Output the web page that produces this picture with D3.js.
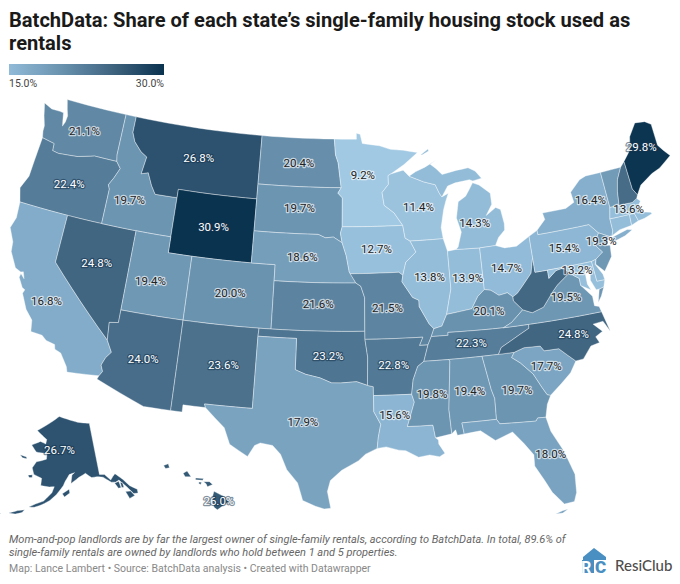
<!DOCTYPE html>
<html>
<head>
<meta charset="utf-8">
<script src="https://cdn.jsdelivr.net/npm/d3@7"></script>
<style>
  html, body { margin: 0; padding: 0; background: #fff; }
  svg { display: block; font-family: Roboto, sans-serif; }
</style>
</head>
<body>
<svg id="chart" width="680" height="584"></svg>
<script>
// share of single-family stock used as rentals (unlabelled states are estimated from their colour)
var stateCodes = ["WA","OR","CA","NV","ID","MT","WY","UT","AZ","CO","NM","ND","SD","NE","KS","OK","TX","MN","IA","MO","AR","LA","WI","IL","IN","MI","OH","KY","TN","MS","AL","GA","FL","SC","NC","VA","WV","PA","NY","NJ","MD","DE","CT","RI","MA","VT","NH","ME","AK","HI"];
var stateValues = [21.1,22.4,16.8,24.8,19.7,26.8,30.9,19.4,24.0,20.0,23.6,20.4,19.7,18.6,21.6,23.2,17.9,9.2,12.7,21.5,22.8,15.6,11.4,13.8,13.9,14.3,14.7,20.1,22.3,19.8,19.4,19.7,18.0,17.7,24.8,19.5,24.6,15.4,16.4,19.3,13.2,14.5,14.0,14.0,13.6,19.0,24.2,29.8,26.7,26.0];
var unlabelled = ["WV","DE","CT","RI","VT","NH"];

var legendTicks = ["15.0%", "30.0%"];
var colorStops = [9, 15, 20, 25, 30];
var colorRange = ["#a2c9e3", "#90bad7", "#6a93b0", "#3f6480", "#0a3350"];

// outlines as lon,lat
var stateRings = {
  WA: ["-124.7,48.38 -123.9,48.15 -123.1,48.15 -122.75,48.12 -122.6,47.6 -122.5,47.3 -122.35,47.6 -122.3,48.0 -122.5,48.4 -122.75,49 -117.03,49 -117.03,46.4 -116.92,45.99 -118.98,46 -119.3,45.93 -120.5,45.7 -121.2,45.65 -122.2,45.58 -122.75,45.65 -122.8,46.1 -123.2,46.15 -123.95,46.25 -124.08,46.65 -124.1,47 -124.4,47.6"],
  OR: ["-124.2,42 -124.55,42.85 -124.1,43.7 -124.05,44.7 -123.95,46.25 -123.2,46.15 -122.8,46.1 -122.75,45.65 -122.2,45.58 -121.2,45.65 -120.5,45.7 -119.3,45.93 -118.98,46 -116.92,45.99 -116.48,45.6 -116.85,44.95 -117.2,44.45 -117.03,44.2 -117.03,42"],
  CA: ["-124.2,42 -120,42 -120,39 -114.63,35 -114.14,34.3 -114.5,33.9 -114.72,33.4 -114.52,33.03 -114.72,32.72 -117.12,32.53 -117.25,32.85 -117.9,33.6 -118.4,33.75 -118.5,34.03 -119.2,34.15 -119.6,34.4 -120.5,34.45 -120.65,35.15 -121.3,35.7 -121.9,36.6 -121.8,36.85 -122.05,36.95 -122.5,37.5 -122.45,37.75 -122.1,37.5 -122.3,37.9 -122.5,37.85 -123,38 -123.7,38.9 -123.8,39.5 -124.35,40.3 -124.1,41"],
  NV: ["-120,42 -114.04,42 -114.04,36.2 -114.75,36.1 -114.63,35 -120,39"],
  ID: ["-117.03,49 -116.05,49 -116.05,48 -115.7,47.45 -114.95,46.9 -114.35,46.65 -114.55,45.55 -113.95,45.7 -113.45,44.95 -113,44.45 -111.05,44.47 -111.05,42 -117.03,42 -117.03,44.2 -117.2,44.45 -116.85,44.95 -116.48,45.6 -116.92,45.99 -117.03,46.4"],
  MT: ["-116.05,49 -104.05,49 -104.05,45 -111.05,45 -111.05,44.47 -113,44.45 -113.45,44.95 -113.95,45.7 -114.55,45.55 -114.35,46.65 -114.95,46.9 -115.7,47.45 -116.05,48"],
  WY: ["-111.05,45 -104.05,45 -104.05,41 -111.05,41"],
  UT: ["-114.04,42 -111.05,42 -111.05,41 -109.05,41 -109.05,37 -114.04,37"],
  CO: ["-109.05,41 -102.05,41 -102.05,37 -109.05,37"],
  AZ: ["-114.04,37 -109.05,37 -109.05,31.33 -111.07,31.33 -114.82,32.5 -114.72,32.72 -114.52,33.03 -114.72,33.4 -114.5,33.9 -114.14,34.3 -114.63,35 -114.75,36.1 -114.04,36.2"],
  NM: ["-109.05,37 -103,37 -103.04,36.5 -103.06,32 -106.62,32 -106.53,31.78 -108.2,31.78 -108.2,31.33 -109.05,31.33"],
  TX: ["-103.04,36.5 -100,36.5 -100,34.56 -99.2,34.3 -98.1,34.1 -97.2,33.8 -96.5,33.8 -95.3,33.88 -94.48,33.64 -94.04,33.55 -94.04,33 -94.04,32 -93.55,31.2 -93.75,30.4 -93.85,29.7 -94.7,29.35 -95.2,28.95 -96.4,28.35 -97.2,27.7 -97.4,27 -97.15,25.95 -97.6,25.9 -98.2,26.06 -99.1,26.4 -99.5,27.5 -100.3,28.3 -100.8,29.25 -101.4,29.77 -102.3,29.88 -102.7,29.7 -103.15,28.98 -104.5,29.65 -105,30.65 -106.53,31.78 -106.62,32 -103.06,32"],
  OK: ["-103,37 -94.62,37 -94.62,36.5 -94.43,35.4 -94.48,33.64 -95.3,33.88 -96.5,33.8 -97.2,33.8 -98.1,34.1 -99.2,34.3 -100,34.56 -100,36.5 -103.04,36.5"],
  KS: ["-102.05,40 -95.3,40 -94.9,39.8 -94.6,39.1 -94.62,37 -102.05,37"],
  NE: ["-104.05,43 -98.5,43 -97.9,42.8 -97.2,42.85 -96.45,42.5 -96.1,41.7 -95.85,40.7 -95.3,40 -102.05,40 -102.05,41 -104.05,41"],
  SD: ["-104.05,45.94 -96.56,45.94 -96.85,45.6 -96.45,45.3 -96.45,43.5 -96.6,43.1 -96.45,42.5 -97.2,42.85 -97.9,42.8 -98.5,43 -104.05,43"],
  ND: ["-104.05,49 -97.23,49 -97.1,48 -96.85,47.5 -96.56,45.94 -104.05,45.94"],
  MN: ["-97.23,49 -95.15,49 -95.15,49.38 -94.8,49.3 -94.6,48.72 -93,48.55 -92,48.3 -90.8,48.2 -89.5,48 -90.8,47.3 -92.05,46.75 -92.3,46.65 -92.3,46.1 -92.9,45.6 -92.75,44.8 -91.9,44.3 -91.2,43.5 -96.45,43.5 -96.45,45.3 -96.85,45.6 -96.56,45.94 -96.85,47.5 -97.1,48"],
  IA: ["-96.45,43.5 -91.2,43.5 -91.05,42.7 -90.64,42.5 -90.2,41.8 -91.1,41.2 -91.4,40.4 -91.73,40.6 -95.77,40.58 -95.85,40.7 -96.1,41.7 -96.45,42.5 -96.6,43.1"],
  MO: ["-95.77,40.58 -91.73,40.6 -91.4,40.4 -91.5,40 -90.7,39 -90.2,38.8 -90.2,38.4 -89.5,37.3 -89.15,36.98 -89.4,36.5 -89.7,36 -90.37,36 -90.07,36.5 -94.62,36.5 -94.62,37 -94.6,39.1 -94.9,39.8 -95.3,40"],
  AR: ["-94.62,36.5 -90.07,36.5 -90.37,36 -89.7,36 -90.1,35 -90.6,34.7 -91,33.9 -91.17,33 -94.04,33 -94.04,33.55 -94.48,33.64 -94.43,35.4"],
  LA: ["-94.04,33 -91.17,33 -91,32.5 -91.6,31 -89.73,31 -89.6,30.2 -89.4,30.05 -89.4,29.8 -89,29.2 -89.4,29 -90.1,29.15 -90.9,29.05 -91.8,29.5 -92.3,29.55 -93.2,29.78 -93.85,29.7 -93.75,30.4 -93.55,31.2 -94.04,32"],
  MS: ["-91.17,33 -91,33.9 -90.6,34.7 -90.1,35 -88.2,35 -88.1,34.9 -88.47,31.9 -88.4,30.37 -89.6,30.2 -89.73,31 -91.6,31 -91,32.5"],
  AL: ["-88.2,35 -85.6,35 -85.18,32.87 -85,32.3 -85.05,31 -87.6,31 -87.5,30.3 -88,30.25 -88.1,30.6 -88.4,30.37 -88.47,31.9 -88.1,34.9"],
  GA: ["-85.6,35 -83.1,35 -83.35,34.7 -82.75,34.3 -81.9,33.5 -81.4,32.6 -81.1,32.1 -80.85,32.03 -81.2,31.5 -81.45,30.72 -82.05,30.75 -82.2,30.57 -84.85,30.7 -85.05,31 -85,32.3 -85.18,32.87"],
  FL: ["-87.6,31 -85.05,31 -84.85,30.7 -82.2,30.57 -82.05,30.75 -81.45,30.72 -81.25,29.8 -80.55,28.45 -80.05,26.9 -80.15,25.75 -80.4,25.2 -81.1,25.15 -81.8,26 -82.2,26.8 -82.75,27.8 -82.7,28.5 -83.3,29.3 -84,30.1 -85.3,29.7 -86.3,30.4 -87.5,30.3",
       "-81.8,24.6 -81.3,24.75 -80.9,24.8 -81.3,24.6"],
  SC: ["-83.35,34.7 -83.1,35 -82.3,35.2 -81.05,35.15 -80.8,34.82 -79.67,34.8 -78.55,33.86 -79.1,33.2 -79.9,32.65 -80.85,32.03 -81.1,32.1 -81.4,32.6 -81.9,33.5 -82.75,34.3"],
  NC: ["-84.32,35 -83.1,35 -82.3,35.2 -81.05,35.15 -80.8,34.82 -79.67,34.8 -78.55,33.86 -77.95,33.9 -77.2,34.6 -76.5,34.7 -76.7,35.1 -76.1,35.35 -76.7,35.9 -75.9,35.95 -75.5,35.25 -75.85,36.55 -81.68,36.59 -81.7,36.35 -82.6,36 -83.2,35.75 -84.05,35.4"],
  TN: ["-90.1,35 -84.32,35 -84.05,35.4 -83.2,35.75 -82.6,36 -81.7,36.35 -81.68,36.59 -83.68,36.6 -88.07,36.68 -88.07,36.5 -89.4,36.5 -89.7,36"],
  KY: ["-89.4,36.5 -88.07,36.5 -88.07,36.68 -83.68,36.6 -83,36.85 -81.97,37.54 -82.6,38.17 -82.6,38.42 -83,38.72 -83.7,38.63 -84.3,39 -84.82,39.1 -85.4,38.73 -86,38 -87,37.9 -88.05,37.8 -88.5,37.1 -89.15,36.98"],
  IL: ["-87.53,41.7 -87.8,42.5 -90.64,42.5 -90.2,41.8 -91.1,41.2 -91.4,40.4 -91.5,40 -90.7,39 -90.2,38.8 -90.2,38.4 -89.5,37.3 -89.15,36.98 -88.5,37.1 -88.05,37.8 -87.53,39.35"],
  WI: ["-92.3,46.65 -92.05,46.75 -90.9,46.95 -90.4,46.55 -89.1,46.13 -88.1,45.9 -87.8,45.35 -87.6,45.1 -87,45.3 -87.3,44.8 -87.55,44.3 -87.9,43.2 -87.8,42.5 -90.64,42.5 -91.05,42.7 -91.2,43.5 -91.9,44.3 -92.75,44.8 -92.9,45.6 -92.3,46.1"],
  MI: ["-86.8,41.76 -84.8,41.7 -83.45,41.72 -83.1,42.2 -82.5,42.6 -82.45,43 -82.6,43.9 -83,44.07 -83.9,43.65 -83.3,44.3 -83.3,45 -84.2,45.6 -84.75,45.78 -85.1,45.4 -85.5,45 -86.2,44.7 -86.5,43.7 -86.2,42.8 -86.6,41.9",
       "-90.4,46.55 -89.1,46.13 -88.1,45.9 -87.8,45.35 -87.6,45.1 -87,45.75 -86.3,45.9 -85,46 -84.7,45.9 -83.9,46 -84.4,46.5 -85,46.75 -86.1,46.67 -87.4,46.5 -87.9,46.9 -88.4,47.2 -87.8,47.45 -88.9,47.05 -89.8,46.8",
       "-89.2,47.85 -88.5,48.17 -88.45,48.05 -89.1,47.82"],
  IN: ["-87.53,41.7 -86.8,41.76 -84.8,41.7 -84.82,39.1 -85.4,38.73 -86,38 -87,37.9 -88.05,37.8 -87.53,39.35"],
  OH: ["-84.8,41.7 -83.45,41.72 -82.7,41.5 -81.7,41.5 -80.52,41.98 -80.52,40.64 -80.85,39.7 -81.7,39 -82.2,38.6 -82.6,38.42 -83,38.72 -83.7,38.63 -84.3,39 -84.82,39.1"],
  WV: ["-80.52,40.64 -80.52,39.72 -79.48,39.72 -79.48,39.2 -78.8,39.6 -78.2,39.68 -77.72,39.32 -78.35,39 -78.9,38.7 -79.3,38.4 -80.3,37.5 -81.25,37.27 -81.97,37.54 -82.6,38.17 -82.6,38.42 -82.2,38.6 -81.7,39 -80.85,39.7"],
  VA: ["-83.68,36.6 -81.68,36.59 -75.85,36.55 -75.95,36.9 -76.3,37 -76.3,37.6 -76.9,38.25 -77.05,38.4 -77.05,38.85 -77.5,39.12 -77.72,39.32 -78.35,39 -78.9,38.7 -79.3,38.4 -80.3,37.5 -81.25,37.27 -81.97,37.54 -83,36.85",
       "-75.95,37.15 -75.65,37.95 -75.25,38.03 -75.6,37.5"],
  MD: ["-79.48,39.72 -75.79,39.72 -75.7,38.46 -75.05,38.45 -75.25,38.03 -75.65,37.95 -75.9,37.95 -76.2,38.6 -76,39.4 -76.5,39.2 -76.5,38.4 -76.3,38 -77.05,38.4 -77.05,38.85 -77.5,39.12 -77.72,39.32 -78.2,39.68 -78.8,39.6 -79.48,39.2"],
  DE: ["-75.79,39.72 -75.4,39.8 -75.55,39.5 -75.1,38.8 -75.05,38.45 -75.7,38.46"],
  PA: ["-80.52,41.98 -79.76,42.27 -79.76,42 -75.35,42 -74.7,41.36 -75.1,40.95 -75.2,40.65 -74.72,40.15 -75.4,39.8 -75.79,39.72 -80.52,39.72"],
  NJ: ["-74.7,41.36 -73.9,41 -74.25,40.5 -74,40.45 -74.1,39.75 -74.9,38.95 -75.5,39.5 -75.4,39.8 -74.72,40.15 -75.2,40.65 -75.1,40.95"],
  NY: ["-79.76,42.27 -79.76,42 -75.35,42 -74.7,41.36 -73.9,41 -73.65,41 -73.5,41.3 -73.5,42.05 -73.27,42.75 -73.35,45 -74.7,45 -75.3,44.85 -76.3,44.2 -76.2,43.55 -77,43.28 -79.05,43.27 -78.95,42.85",
       "-74,40.6 -73.7,40.9 -72.3,41.15 -71.9,41.05 -72.6,40.8 -73.9,40.57"],
  CT: ["-73.65,41 -73.5,41.3 -73.5,42.05 -71.8,42.02 -71.85,41.33 -72.9,41.25"],
  RI: ["-71.8,42.02 -71.38,42.02 -71.2,41.5 -71.85,41.33"],
  MA: ["-73.5,42.05 -73.27,42.75 -72.46,42.73 -71.3,42.7 -70.85,42.87 -70.6,42.65 -71,42.3 -70.6,41.95 -70,41.8 -70.1,42.05 -69.95,41.7 -70.65,41.55 -71.2,41.5 -71.38,42.02 -71.8,42.02"],
  VT: ["-73.27,42.75 -72.46,42.73 -72.3,43.6 -72.05,44.3 -71.5,45.01 -73.35,45"],
  NH: ["-72.46,42.73 -71.3,42.7 -70.85,42.87 -70.7,43.07 -71,43.5 -71.08,45.3 -71.5,45.01 -72.05,44.3 -72.3,43.6"],
  ME: ["-71.08,45.3 -71,43.5 -70.7,43.07 -70.2,43.6 -69,44.1 -68.2,44.3 -67,44.85 -67.45,45.3 -67.8,45.7 -67.8,47.07 -68.3,47.35 -69.2,47.45 -70,46.7 -70.3,45.9"],
  AK: ["-141,69.65 -141,60.3 -139.2,60.1 -137.5,58.9 -136.5,59.4 -135.5,59.8 -134,58.8 -133.4,58.4 -132,57 -130,55.9 -130.2,55.2 -131.5,55.4 -133,57 -134.8,58.5 -136,58.3 -137.5,58.5 -139.9,59.7 -142,60 -144,60 -146,60.9 -148.5,60.3 -151.5,59.3 -151,60.8 -150,61.2 -152,60.9 -153.5,59.7 -154.2,58.9 -156.5,57.3 -158.5,56.2 -161,55.3 -163.2,54.7 -164.9,54.6 -163,55.3 -160.5,56 -158,57.6 -157.3,58.7 -159,58.6 -162,58.7 -162,60 -165,60.5 -166,61.6 -164.8,62.8 -163,63.1 -161,63.5 -161,64.5 -163,64.5 -165.5,64.5 -168,65.6 -164.5,66.5 -162,66.2 -161.8,67 -164,67.6 -166.8,68.35 -163,69.5 -156.5,71.35 -152,70.85 -147,70.2",
       "-154.5,57.5 -152.2,58.3 -152,57.6 -153.8,56.9",
       "-171.7,63.4 -169,63.3 -168.8,63 -170.5,63",
       "-167,60.2 -165.5,60.4 -165.4,59.9 -166.5,59.8",
       "-170.5,52.8 -168,53.6 -166,54 -166.6,53.4 -168.5,52.9",
       "-178,51.9 -175,52.3 -172.5,52.4 -174,52 -177,51.6",
       "-136.5,58.2 -135,58.3 -134.8,57.1 -135.7,57.1",
       "-134.6,58 -133.9,57.9 -133.9,57 -134.6,57.1",
       "-133.8,56.2 -132.2,56 -131.4,55 -133.2,54.8"],
  HI: ["-155.9,20.25 -155.1,19.85 -154.8,19.5 -155.65,18.92 -155.9,19.1 -156.05,19.75",
       "-156.7,20.95 -156.25,20.95 -156,20.75 -156.4,20.58 -156.5,20.8",
       "-157.3,21.22 -156.7,21.17 -156.75,21.05 -157.3,21.08",
       "-157.05,20.93 -156.85,20.9 -156.9,20.75 -157.05,20.8",
       "-158.25,21.55 -157.95,21.72 -157.65,21.3 -158.1,21.3",
       "-159.75,22.1 -159.4,22.23 -159.3,21.95 -159.6,21.88"]
};

// label offsets in pixels from the state's centroid
var labelNudge = {
  CA: [-8, 9], NV: [0, -4], ID: [-7, 7], MT: [0, -2], UT: [-6, 3], NM: [8, -1], SD: [0, -3], KS: [0, -3], OK: [0, 2], TX: [0, 2],
  MN: [-4, -7], MO: [-4, -1], LA: [-9, -12], WI: [3, 1], IL: [0, -2], IN: [3, -1], MI: [-4, 3], KY: [7, -4], MS: [0, -3], AL: [0, -2],
  GA: [2, 0], FL: [14, 2], NC: [13, -2], VA: [5, -7], NY: [8, -9], NJ: [-2, -10], MD: [-5, -5], MA: [0, -2], ME: [-2, -8], AK: [-8, -6]
};

var svg = d3.select("#chart");

// title
svg.selectAll("text.title")
  .data(["BatchData: Share of each state\u2019s single-family housing stock used as", "rentals"])
  .enter().append("text")
  .attr("class", "title")
  .attr("x", 9)
  .attr("y", function (d, i) { return 27 + i * 23; })
  .attr("font-size", "20.1px")
  .attr("font-weight", 700)
  .attr("fill", "#1a1a1a")
  .text(function (d) { return d; });

var color = d3.scaleLinear().domain(colorStops).range(colorRange).clamp(true);

// legend
var legendScale = d3.scaleLinear().domain([15, 30]).range([9, 164]);
var grad = svg.append("defs").append("linearGradient").attr("id", "lg");
d3.range(15, 31).forEach(function (v) {
  grad.append("stop").attr("offset", ((v - 15) / 15 * 100) + "%").attr("stop-color", color(v));
});
svg.append("rect")
  .attr("x", legendScale(15)).attr("y", 64)
  .attr("width", legendScale(30) - legendScale(15)).attr("height", 11)
  .attr("fill", "url(#lg)");
svg.selectAll("text.leg")
  .data(legendTicks)
  .enter().append("text")
  .attr("class", "leg")
  .attr("x", function (d) { return legendScale(parseFloat(d)); })
  .attr("y", 87)
  .attr("text-anchor", function (d, i) { return i ? "end" : "start"; })
  .attr("font-size", "10.5px")
  .attr("fill", "#444")
  .text(function (d) { return d; });

// map
var lower48 = d3.geoAlbers().scale(915).translate([340, 304]);
var alaska = d3.geoConicEqualArea().rotate([154, 0]).center([-2, 58.5]).parallels([55, 65]).scale(320).translate([58, 488]);
var hawaii = d3.geoConicEqualArea().rotate([157, 0]).center([-3, 19.9]).parallels([8, 18]).scale(800).translate([160, 496]);

// straight lines on the lon/lat grid, so borders follow the parallels
function denseRing(str) {
  var pts = str.split(" ").map(function (p) { return p.split(",").map(Number); });
  pts.push(pts[0]);
  var out = [];
  pts.forEach(function (p, i) {
    if (i === 0) { out.push(p); return; }
    var q = pts[i - 1];
    var n = Math.max(Math.ceil(Math.abs(p[0] - q[0])), 1);
    for (var k = 1; k <= n; k++) {
      out.push([q[0] + (p[0] - q[0]) * k / n, q[1] + (p[1] - q[1]) * k / n]);
    }
  });
  return out;
}
function polygonOf(str) {
  var ring = denseRing(str);
  if (d3.geoArea({ type: "Polygon", coordinates: [ring] }) > 2 * Math.PI) ring.reverse();
  return [ring];
}
var features = stateCodes.map(function (code, i) {
  return {
    type: "Feature",
    id: code,
    value: stateValues[i],
    geometry: { type: "MultiPolygon", coordinates: stateRings[code].map(polygonOf) }
  };
});
function pathFor(d) {
  return d3.geoPath(d.id === "AK" ? alaska : d.id === "HI" ? hawaii : lower48);
}

svg.append("g").selectAll("path")
  .data(features)
  .enter().append("path")
  .attr("d", function (d) { return pathFor(d)(d); })
  .attr("fill", function (d) { return color(d.value); })
  .attr("stroke", "#fff")
  .attr("stroke-opacity", 0.55)
  .attr("stroke-width", 0.7)
  .attr("stroke-linejoin", "round");

// labels
svg.append("g").selectAll("text")
  .data(features.filter(function (d) { return unlabelled.indexOf(d.id) < 0; }))
  .enter().append("text")
  .attr("transform", function (d) {
    // centroid of the largest part
    var parts = d.geometry.coordinates.map(function (c) { return { type: "Polygon", coordinates: c }; });
    var big = parts.sort(function (a, b) { return d3.geoArea(b) - d3.geoArea(a); })[0];
    var c = pathFor(d).centroid(big), n = labelNudge[d.id] || [0, 0];
    return "translate(" + (c[0] + n[0]) + "," + (c[1] + n[1]) + ")";
  })
  .attr("text-anchor", "middle")
  .attr("dy", "0.35em")
  .attr("font-size", "11.5px")
  .attr("paint-order", "stroke")
  .attr("stroke-width", 2.4)
  .attr("stroke-linejoin", "round")
  .attr("stroke", function (d) { return d.value >= 22 ? "rgba(20,50,75,0.55)" : "rgba(255,255,255,0.65)"; })
  .attr("fill", function (d) { return d.value >= 22 ? "#fff" : "#222"; })
  .text(function (d) { return d.value.toFixed(1) + "%"; });

// notes
svg.selectAll("text.note")
  .data(["Mom-and-pop landlords are by far the largest owner of single-family rentals, according to BatchData. In total, 89.6% of", "single-family rentals are owned by landlords who hold between 1 and 5 properties."])
  .enter().append("text")
  .attr("class", "note")
  .attr("x", 9)
  .attr("y", function (d, i) { return 543 + i * 13; })
  .attr("font-size", "11px")
  .attr("font-style", "italic")
  .attr("fill", "#666")
  .text(function (d) { return d; });
svg.append("text")
  .attr("x", 9).attr("y", 572)
  .attr("font-size", "10.5px")
  .attr("fill", "#888")
  .text("Map: Lance Lambert \u2022 Source: BatchData analysis \u2022 Created with Datawrapper");

// logo
var logo = svg.append("g");
logo.append("polygon").attr("points", "583,557 594,548 606,557 606,560 583,560").attr("fill", "#4a8fc2");
logo.append("rect").attr("x", 582).attr("y", 560).attr("width", 12).attr("height", 13).attr("fill", "#4a8fc2");
logo.append("text").attr("x", 581).attr("y", 573).attr("font-size", "16px").attr("font-weight", 700).attr("fill", "#fff").text("R");
logo.append("text").attr("x", 595).attr("y", 573).attr("font-size", "17px").attr("font-weight", 900).attr("fill", "#4a8fc2").text("C");
svg.append("text").attr("x", 615).attr("y", 571).attr("font-family", "Lato, sans-serif").attr("font-size", "15px").attr("font-weight", 500).attr("fill", "#4d4d4d").text("ResiClub");
</script>
</body>
</html>
